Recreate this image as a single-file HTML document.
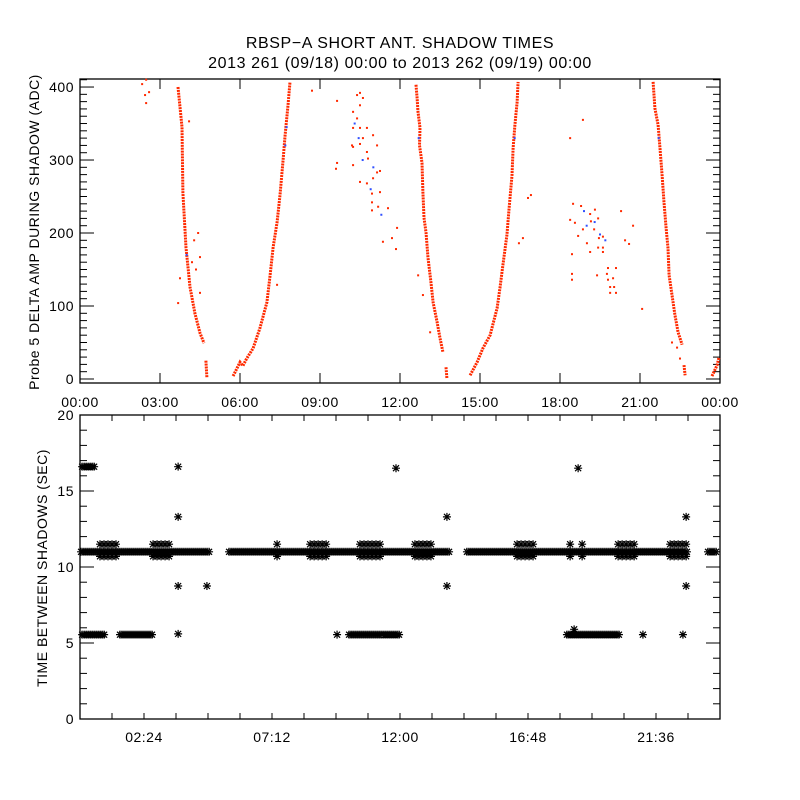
<!DOCTYPE html>
<html><head><meta charset="utf-8"><style>
html,body{margin:0;padding:0;background:#fff;}
svg{display:block;font-family:"Liberation Sans",sans-serif;}
</style></head><body>
<svg id="chart" width="800" height="800" viewBox="0 0 800 800" xmlns="http://www.w3.org/2000/svg">
<rect width="800" height="800" fill="#fff"/>
<text x="400" y="48" font-size="16" text-anchor="middle" letter-spacing="0.6">RBSP−A SHORT ANT. SHADOW TIMES</text>
<text x="400" y="68" font-size="16" text-anchor="middle" letter-spacing="0.6">2013 261 (09/18) 00:00 to 2013 262 (09/19) 00:00</text>
<g id="topPanel"></g>
<g id="botPanel"></g>
<text transform="translate(39,232) rotate(-90)" font-size="14" text-anchor="middle" letter-spacing="0.5">Probe 5 DELTA AMP DURING SHADOW (ADC)</text>
<text transform="translate(47,568) rotate(-90)" font-size="14" text-anchor="middle" letter-spacing="0.5">TIME BETWEEN SHADOWS (SEC)</text>
</svg>
<script>
// ---------- top panel data (hour, ADC) ----------
const topTickLabels = ["00:00","03:00","06:00","09:00","12:00","15:00","18:00","21:00","00:00"];
const topYTicks = [0,100,200,300,400];
const curve1 = [[3.675,400],[3.825,345],[3.86,255],[3.975,180],[4.125,126],[4.31,90],[4.5,63],[4.65,49]];
const curve1Tail = [[4.72,25],[4.76,2]];
const curve2 = [[5.74,4],[6.0,23],[6.11,18],[6.25,28],[6.49,42],[6.75,70],[7.01,105],[7.13,142],[7.24,180],[7.39,215],[7.5,252],[7.61,297],[7.69,334],[7.8,375],[7.875,407]];
const curve3 = [[12.6,403],[12.64,385],[12.675,366],[12.75,344],[12.73,320],[12.825,296],[12.86,256],[12.9,221],[12.975,201],[13.05,166],[13.16,133],[13.24,105],[13.39,78],[13.5,56],[13.61,37]];
const curve3Tail = [[13.725,16],[13.76,1]];
const curve4 = [[14.63,5],[14.89,23],[15.11,42],[15.38,60],[15.64,97],[15.75,125],[15.86,156],[16.01,197],[16.09,234],[16.2,279],[16.24,316],[16.31,348],[16.39,379],[16.43,407]];
const curve5 = [[21.49,407],[21.56,371],[21.68,348],[21.75,316],[21.83,279],[21.9,242],[21.98,207],[22.05,179],[22.09,142],[22.2,115],[22.31,88],[22.43,64],[22.58,47]];
const curve5Tail = [[22.65,19],[22.69,5]];
const curve6 = [[23.7,4],[23.89,19],[23.96,29]];
const redPoints = [[2.33,404],[2.48,410],[2.44,389],[2.48,378],[2.59,393],[3.68,104],[3.75,138],[4.09,353],[4.5,167],[4.5,118],[4.43,200],[4.28,190],[4.2,160],[4.35,150],
[7.39,129],[8.7,395],
[10.39,389],[10.5,392],[10.61,385],[10.24,366],[10.39,357],[10.5,375],[10.24,344],[10.5,344],[10.76,344],[10.61,330],[10.24,318],[10.5,322],[10.76,311],[10.99,334],[11.14,320],[10.8,302],[10.24,293],[11.14,283],[11.25,285],[10.99,275],[10.5,270],[10.76,268],[11.25,256],[10.95,254],[10.95,242],[11.18,236],[10.95,231],[11.55,234],[11.89,207],[11.36,188],[11.7,193],[11.85,178],[9.64,381],[9.64,296],[9.6,288],[10.2,320],
[12.68,142],[12.86,115],[13.13,64],
[16.46,186],[16.61,193],[16.8,248],[16.91,252],
[18.38,330],[18.86,355],[18.49,240],[18.38,218],[18.56,214],[18.79,237],[19.13,226],[19.31,232],[19.43,220],[19.16,216],[18.68,196],[18.86,205],[19.28,205],[19.01,186],[19.46,193],[19.61,195],[19.43,180],[19.61,180],[19.13,174],[19.61,174],[18.45,171],[18.45,144],[18.45,136],[19.39,142],[19.8,152],[20.1,152],[19.76,144],[19.99,138],[19.8,136],[19.88,126],[20.03,126],[19.88,118],[20.1,118],[20.29,230],[20.74,210],[20.44,190],[20.59,185],[21.08,96],
[22.2,50],[22.39,43],[22.5,28]];
const bluePoints = [[10.3,350],[10.6,300],[10.9,260],[11.0,290],[10.45,330],[11.3,225],[19.0,210],[19.3,215],[19.5,198],[18.9,230],[19.7,190],[7.7,320],[7.75,345],[16.3,330],[21.7,330],[12.7,330],[4.0,170]];

// ---------- bottom panel data (hour, seconds) ----------
const botTickLabels = ["02:24","07:12","12:00","16:48","21:36"];
const botTickHours = [2.4,7.2,12.0,16.8,21.6];
const botYTicks = [0,5,10,15,20];
const band11 = [[0.04,4.84],[5.59,13.84],[14.51,22.8],[23.55,24]];
const clusterRanges = [[0.75,1.39],[2.74,3.45],[7.39,7.39],[8.63,9.26],[10.5,11.36],[12.56,13.24],[16.39,17.06],[18.38,18.38],[18.83,18.83],[20.18,20.89],[22.13,22.8]];
const clusterValues = [11.5,10.7];
const band5 = [[0.08,0.94],[1.5,2.74],[10.09,12.0],[18.26,20.25]];
const band5Value = 5.55;
const band16 = [[0.08,0.53]];
const band16Value = 16.6;
const singles = [[3.68,16.6],[3.68,13.3],[3.68,8.75],[3.68,5.6],[4.76,8.75],[9.64,5.55],[11.85,16.5],[13.76,13.3],[13.76,8.75],[18.53,5.9],[18.68,16.5],[21.11,5.55],[22.61,5.55],[22.73,13.3],[22.73,8.75]];

const NS="http://www.w3.org/2000/svg";
function mk(tag,parent,attrs){const e=document.createElementNS(NS,tag);for(const k in attrs)e.setAttribute(k,attrs[k]);parent.appendChild(e);return e;}

const L=80,R=720;
const xT=h=>L+h/24*(R-L);
const T1=79,B1=383,yMin1=-5.5,yMax1=411;
const yT=v=>B1-(v-yMin1)/(yMax1-yMin1)*(B1-T1);
const T2=415,B2=719;
const yB=v=>B2-v/20*(B2-T2);

const topG=document.getElementById('topPanel');
const botG=document.getElementById('botPanel');

const f1=mk('rect',topG,{x:L,y:T1,width:R-L,height:B1-T1,fill:'none',stroke:'#000','stroke-width':1.3});


topTickLabels.forEach((lab,i)=>{
  const x=xT(i*3);
  mk('line',topG,{x1:x,x2:x,y1:B1,y2:B1-10,stroke:'#000'});
  mk('line',topG,{x1:x,x2:x,y1:T1,y2:T1+10,stroke:'#000'});
  const t=mk('text',topG,{x:x,y:407,'font-size':14,'text-anchor':'middle','letter-spacing':0.5});
  t.textContent=lab;
  
  
});
for(let v=0;v<=410;v+=10){
  const y=yT(v);const major=v%100===0;const len=major?14:7;
  mk('line',topG,{x1:L,x2:L+len,y1:y,y2:y,stroke:'#000'});
  mk('line',topG,{x1:R,x2:R-len,y1:y,y2:y,stroke:'#000'});
}
topYTicks.forEach(v=>{
  const t=mk('text',topG,{x:74,y:yT(v)+5,'font-size':14,'text-anchor':'end','letter-spacing':0.5});
  t.textContent=v;
  
  
});
function curve(arr,name){
  const p=mk('polyline',topG,{points:arr.map(d=>xT(d[0]).toFixed(1)+','+yT(d[1]).toFixed(1)).join(' '),fill:'none',stroke:'#ff2a00','stroke-width':3,'stroke-dasharray':'2 0.9'});
  
  
}
curve(curve1,'shadow-curve-1');curve(curve1Tail,'shadow-curve-1-tail');
curve(curve2,'shadow-curve-2');
curve(curve3,'shadow-curve-3');curve(curve3Tail,'shadow-curve-3-tail');
curve(curve4,'shadow-curve-4');
curve(curve5,'shadow-curve-5');curve(curve5Tail,'shadow-curve-5-tail');
curve(curve6,'shadow-curve-6');
redPoints.forEach(d=>{
  const r=mk('rect',topG,{x:xT(d[0])-1,y:yT(d[1])-1,width:2,height:2,fill:'#ff2a00'});
  
  
});
bluePoints.forEach(d=>{
  const r=mk('rect',topG,{x:xT(d[0])-1,y:yT(d[1])-1,width:2,height:2,fill:'#3050ff'});
  
  
});

const f2=mk('rect',botG,{x:L,y:T2,width:R-L,height:B2-T2,fill:'none',stroke:'#000','stroke-width':1.3});


for(let h=1.2;h<24;h+=1.2){
  const x=xT(h);
  mk('line',botG,{x1:x,x2:x,y1:B2,y2:B2-6,stroke:'#000'});
  mk('line',botG,{x1:x,x2:x,y1:T2,y2:T2+6,stroke:'#000'});
}
botTickLabels.forEach((lab,i)=>{
  const t=mk('text',botG,{x:xT(botTickHours[i]),y:742,'font-size':14,'text-anchor':'middle','letter-spacing':0.5});
  t.textContent=lab;
  
  
});
for(let v=0;v<=20;v++){
  const y=yB(v);const major=v%5===0;const len=major?14:7;
  mk('line',botG,{x1:L,x2:L+len,y1:y,y2:y,stroke:'#000'});
  mk('line',botG,{x1:R,x2:R-len,y1:y,y2:y,stroke:'#000'});
}
botYTicks.forEach(v=>{
  const t=mk('text',botG,{x:74,y:yB(v)+5,'font-size':14,'text-anchor':'end','letter-spacing':0.5});
  t.textContent=v;
  
  
});
const ast=mk('path',botG,{fill:'none',stroke:'#000','stroke-width':1.2});


let dstr='';
function star(h,v){
  const x=xT(h),y=yB(v),s=4;
  dstr+=`M${x-s},${y}H${x+s}M${x},${y-s}V${y+s}M${x-3},${y-3}L${x+3},${y+3}M${x-3},${y+3}L${x+3},${y-3}`;
}
function run(a,b,v,stepPx){
  const x0=xT(a),x1=xT(b);
  if(x1-x0<1){star(a,v);return;}
  for(let x=x0;x<=x1+0.01;x+=stepPx){star((x-L)/(R-L)*24,v);}
}
band11.forEach(s=>run(s[0],Math.min(s[1],23.9),11,2));
band5.forEach(s=>run(s[0],s[1],band5Value,2));
band16.forEach(s=>run(s[0],s[1],band16Value,2));
clusterRanges.forEach(s=>clusterValues.forEach(v=>run(s[0],s[1],v,4)));
singles.forEach(d=>star(d[0],d[1]));
ast.setAttribute('d',dstr);
</script>
</body></html>
